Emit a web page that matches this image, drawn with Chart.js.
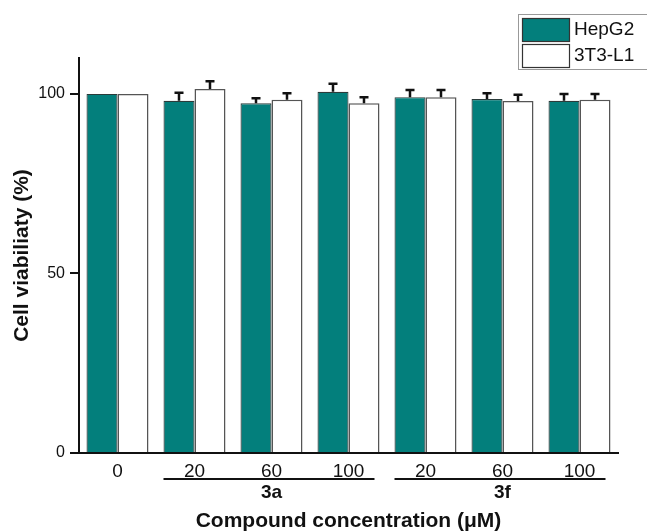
<!DOCTYPE html>
<html>
<head>
<meta charset="utf-8">
<script src="https://cdn.jsdelivr.net/npm/chart.js@4"></script>
<style>
  html, body { margin: 0; padding: 0; background: #fff; }
  #wrap { width: 647px; height: 531px; }
</style>
</head>
<body>
<div id="wrap"><canvas id="bars"></canvas></div>
<script>
var doses = ['0', '20', '60', '100', '20', '60', '100'];
var hepg2 = [100, 98.1, 97.4, 100.6, 99.1, 98.6, 98.1];
var hepg2Err = [0, 2.2, 1.4, 2.2, 2.0, 1.6, 1.9];
var l1 = [100, 101.4, 98.4, 97.4, 99.1, 98.0, 98.4];
var l1Err = [0, 2.1, 1.8, 1.7, 2.0, 1.8, 1.6];
var groupNames = ['3a', '3f'];
var groupFrom = [1, 4];
var groupTo = [3, 6];
var yTicks = [0, 50, 100];

var errors = [hepg2Err, l1Err];

var errorBars = {
    id: 'errorBars',
    afterDatasetsDraw: function (chart) {
        var ctx = chart.ctx;
        var y = chart.scales.y;
        ctx.save();
        ctx.strokeStyle = '#111';
        ctx.lineWidth = 2.5;
        chart.data.datasets.forEach(function (ds, d) {
            var meta = chart.getDatasetMeta(d);
            meta.data.forEach(function (bar, i) {
                var e = errors[d][i];
                if (!e) return;
                var top = y.getPixelForValue(ds.data[i] + e);
                ctx.beginPath();
                ctx.moveTo(bar.x, bar.y);
                ctx.lineTo(bar.x, top);
                ctx.moveTo(bar.x - 4.5, top);
                ctx.lineTo(bar.x + 4.5, top);
                ctx.stroke();
            });
        });
        ctx.restore();
    }
};

var groupLabels = {
    id: 'groupLabels',
    afterDraw: function (chart) {
        var ctx = chart.ctx;
        var teal = chart.getDatasetMeta(0).data;
        var white = chart.getDatasetMeta(1).data;
        ctx.save();
        ctx.strokeStyle = '#111';
        ctx.lineWidth = 2;
        ctx.fillStyle = '#111';
        ctx.font = 'bold 19px "Liberation Sans", Arial, sans-serif';
        ctx.textAlign = 'center';
        ctx.textBaseline = 'middle';
        groupNames.forEach(function (g, k) {
            var a = teal[groupFrom[k]];
            var b = white[groupTo[k]];
            var x0 = a.x - a.width / 2;
            var x1 = b.x + b.width / 2 - 5;
            ctx.beginPath();
            ctx.moveTo(x0, 479);
            ctx.lineTo(x1, 479);
            ctx.stroke();
            var mid = Math.round((groupFrom[k] + groupTo[k]) / 2);
            ctx.fillText(g, chart.scales.x.getPixelForValue(mid), 493);
        });
        ctx.restore();
    }
};

var boxLegend = {
    id: 'boxLegend',
    afterDraw: function (chart) {
        var ctx = chart.ctx;
        ctx.save();
        ctx.strokeStyle = '#999';
        ctx.lineWidth = 1;
        ctx.strokeRect(518.5, 14.5, 140, 55);
        ctx.font = '19px "Liberation Sans", Arial, sans-serif';
        ctx.textBaseline = 'middle';
        chart.data.datasets.forEach(function (ds, d) {
            var top = 18 + d * 26;
            ctx.fillStyle = ds.backgroundColor;
            ctx.fillRect(522, top, 47, 23);
            ctx.strokeStyle = '#333';
            ctx.lineWidth = 1.2;
            ctx.strokeRect(522.5, top + 0.5, 47, 23);
            ctx.fillStyle = '#111';
            ctx.fillText(ds.label, 574, top + 12);
        });
        ctx.restore();
    }
};

var ctx = document.getElementById('bars').getContext('2d');
var myChart = new Chart(ctx, {
    type: 'bar',
    data: {
        labels: doses,
        datasets: [{
            label: 'HepG2',
            data: hepg2,
            backgroundColor: '#037f7c',
            borderColor: '#2b3b3a',
            borderWidth: 1.2
        }, {
            label: '3T3-L1',
            data: l1,
            backgroundColor: '#ffffff',
            borderColor: '#555',
            borderWidth: 1.5
        }]
    },
    options: {
        responsive: true,
        maintainAspectRatio: false,
        animation: false,
        layout: { padding: { top: 58, right: 29, left: 0, bottom: 0 } },
        plugins: {
            legend: { display: false },
            tooltip: { enabled: false }
        },
        datasets: {
            bar: { categoryPercentage: 0.805, barPercentage: 1 }
        },
        scales: {
            x: {
                offset: true,
                grid: { display: false, drawTicks: false, tickLength: 0 },
                border: { display: true, color: '#111', width: 2 },
                ticks: {
                    color: '#111',
                    padding: 7,
                    font: { family: '"Liberation Sans", Arial, sans-serif', size: 19 }
                },
                title: {
                    display: true,
                    text: 'Compound concentration (μM)',
                    color: '#111',
                    padding: { top: 0, bottom: -3 },
                    font: { family: '"Liberation Sans", Arial, sans-serif', size: 21, weight: 'bold' }
                },
                afterFit: function (s) { s.height = 78; }
            },
            y: {
                min: 0,
                max: 110,
                afterBuildTicks: function (s) {
                    s.ticks = yTicks.map(function (v) { return { value: v }; });
                },
                grid: {
                    display: true,
                    drawOnChartArea: false,
                    drawTicks: true,
                    tickLength: 9,
                    color: '#111',
                    lineWidth: 2
                },
                border: { display: true, color: '#111', width: 2 },
                ticks: {
                    color: '#111',
                    padding: 5,
                    font: { family: '"Liberation Sans", Arial, sans-serif', size: 16 }
                },
                title: {
                    display: true,
                    text: 'Cell viabiliaty (%)',
                    color: '#111',
                    padding: { top: 10, bottom: 0 },
                    font: { family: '"Liberation Sans", Arial, sans-serif', size: 21, weight: 'bold' }
                },
                afterFit: function (s) { s.width = 79; }
            }
        }
    },
    plugins: [errorBars, groupLabels, boxLegend]
});
</script>
</body>
</html>
